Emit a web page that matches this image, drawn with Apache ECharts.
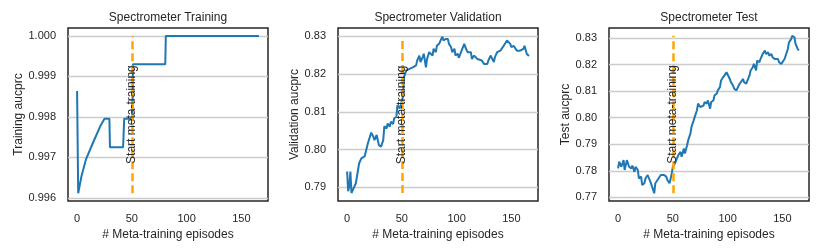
<!DOCTYPE html>
<html><head><meta charset="utf-8">
<script src="https://cdn.jsdelivr.net/npm/echarts@6/dist/echarts.min.js"></script>
<style>html,body{margin:0;padding:0;background:#fff}#c{width:830px;height:252px}</style>
</head><body><div id="c"></div>
<script>
// ---- data ----
const titles = ['Spectrometer Training', 'Spectrometer Validation', 'Spectrometer Test'];
const yNames = ['Training aucprc', 'Validation aucprc', 'Test aucprc'];
const xName = '# Meta-training episodes';
const xTicks = [0, 50, 100, 150];
const xLimits = [-8.3, 174.3];
const yTicks1 = [0.996, 0.997, 0.998, 0.999, 1.000];
const yTicks2 = [0.79, 0.80, 0.81, 0.82, 0.83];
const yTicks3 = [0.77, 0.78, 0.79, 0.80, 0.81, 0.82, 0.83];
const yLimits1 = [0.99592, 1.000195];
const yLimits2 = [0.7864, 0.8322];
const yLimits3 = [0.7686, 0.8338];
const metaStart = 50;
const metaLabel = 'Start meta-training';

const trainX = [0, 1, 4, 8, 15, 21, 25, 29.5, 30, 42, 43, 50.5, 51, 80.5, 81, 166];
const trainY = [0.99864, 0.99611, 0.99653, 0.99694, 0.99739, 0.99776, 0.99795, 0.99795, 0.99725, 0.99725, 0.99795, 0.99795, 0.99930, 0.99930, 1.0, 1.0];

const valX = [0,1,2,3,4,6,8,11,13,16,19,22,24,25,27,29,31,33,34,36,37,39,40,42,43,45,46,48,49,51,52,54,55,57,60,63,64,66,67,69,70,72,73,75,76,78,79,81,82,84,86,87,88,90,92,93,95,96,98,99,101,102,104,105,107,108,110,111,113,114,116,117,119,120,123,125,126,128,129,131,132,134,135,137,138,140,141,143,144,146,147,149,150,152,153,155,156,158,159,161,162,164,165,166];
const valY = [0.7942,0.7890,0.7903,0.7942,0.7885,0.7898,0.7911,0.7964,0.7977,0.7982,0.8017,0.8045,0.8034,0.8025,0.8039,0.8012,0.8008,0.8025,0.8062,0.8056,0.8069,0.8061,0.8074,0.8068,0.8083,0.8087,0.8118,0.8109,0.8118,0.8140,0.8192,0.8210,0.8205,0.8214,0.8218,0.8223,0.8236,0.8249,0.8232,0.8245,0.8254,0.8218,0.8240,0.8258,0.8254,0.8249,0.8267,0.8258,0.8275,0.8280,0.8293,0.8299,0.8289,0.8293,0.8293,0.8280,0.8271,0.8258,0.8267,0.8249,0.8254,0.8243,0.8258,0.8262,0.8280,0.8271,0.8258,0.8254,0.8258,0.8240,0.8249,0.8245,0.8240,0.8240,0.8236,0.8227,0.8223,0.8227,0.8236,0.8249,0.8254,0.8232,0.8245,0.8258,0.8262,0.8262,0.8267,0.8275,0.8280,0.8289,0.8293,0.8280,0.8271,0.8275,0.8271,0.8262,0.8258,0.8262,0.8258,0.8267,0.8275,0.8254,0.8249,0.8248];

const testX = [0,1,3,4,5,6,8,9,10,12,13,15,16,18,19,21,22,24,25,27,28,30,31,33,34,36,37,39,40,42,44,45,47,48,49,50,52,53,55,57,58,60,61,63,64,66,67,69,70,72,73,75,76,78,79,81,82,84,85,87,88,90,91,93,94,96,97,99,100,102,103,105,106,108,109,111,112,114,115,117,118,120,121,123,124,126,127,129,130,132,134,135,137,138,140,141,143,144,146,147,149,150,152,153,155,156,158,159,161,162,164,165];
const testY = [0.7809,0.7834,0.7815,0.7809,0.7840,0.7803,0.7840,0.7846,0.7815,0.7809,0.7819,0.7796,0.7815,0.7803,0.7771,0.7778,0.7746,0.7753,0.7771,0.7784,0.7790,0.7753,0.7740,0.7715,0.7753,0.7765,0.7759,0.7784,0.7790,0.7784,0.7778,0.7765,0.7753,0.7771,0.7790,0.7815,0.7828,0.7840,0.7859,0.7871,0.7853,0.7884,0.7865,0.7896,0.7915,0.7940,0.7965,0.7990,0.8003,0.8028,0.8053,0.8040,0.8034,0.8046,0.8059,0.8053,0.8065,0.8034,0.8059,0.8065,0.8084,0.8090,0.8103,0.8115,0.8140,0.8153,0.8159,0.8171,0.8165,0.8146,0.8134,0.8121,0.8109,0.8103,0.8109,0.8128,0.8134,0.8146,0.8134,0.8128,0.8134,0.8159,0.8178,0.8190,0.8203,0.8178,0.8215,0.8209,0.8221,0.8240,0.8253,0.8240,0.8246,0.8234,0.8240,0.8228,0.8221,0.8228,0.8221,0.8209,0.8203,0.8209,0.8221,0.8234,0.8259,0.8284,0.8296,0.8309,0.8303,0.8278,0.8259,0.8253];

// ---- build ----
const FONT = 'Liberation Sans, Arial, Helvetica, sans-serif';
const TXT = '#262626';
const panels = [
  {x: trainX, y: trainY, ticks: yTicks1, lim: yLimits1, dec: 3, left: 68, nameGap: 43},
  {x: valX, y: valY, ticks: yTicks2, lim: yLimits2, dec: 2, left: 338, nameGap: 36},
  {x: testX, y: testY, ticks: yTicks3, lim: yLimits3, dec: 2, left: 609, nameGap: 37}
];
const W = 200, TOP = 28, H = 173;

const option = {
  animation: false,
  backgroundColor: '#ffffff',
  title: panels.map((p, i) => ({
    text: titles[i], left: p.left + W / 2, top: 12, padding: 0, textAlign: 'center',
    textStyle: {fontFamily: FONT, fontSize: 12, fontWeight: 'normal', color: TXT}
  })),
  grid: panels.map(p => ({
    left: p.left, top: TOP, width: W, height: H, show: true,
    borderColor: '#262626', borderWidth: 1.5, backgroundColor: 'transparent', containLabel: false
  })),
  xAxis: panels.map((p, i) => ({
    type: 'value', gridIndex: i, min: xLimits[0], max: xLimits[1],
    name: xName, nameLocation: 'middle', nameGap: 24,
    nameTextStyle: {fontFamily: FONT, fontSize: 12, color: TXT},
    axisLine: {show: false}, axisTick: {show: false, customValues: xTicks},
    axisLabel: {customValues: xTicks, fontFamily: FONT, fontSize: 11, color: TXT, margin: 12},
    splitLine: {show: false}
  })),
  yAxis: panels.map((p, i) => ({
    type: 'value', gridIndex: i, min: p.lim[0], max: p.lim[1],
    name: yNames[i], nameLocation: 'middle', nameGap: p.nameGap,
    nameTextStyle: {fontFamily: FONT, fontSize: 12, color: TXT},
    axisLine: {show: false}, axisTick: {show: false, customValues: p.ticks},
    axisLabel: {customValues: p.ticks, fontFamily: FONT, fontSize: 11, color: TXT, margin: 12,
      formatter: v => Number(v).toFixed(p.dec)},
    splitLine: {show: true, lineStyle: {color: '#cccccc', width: 1.3}}
  })),
  series: panels.map((p, i) => {
    const lo = Math.min(...p.y), hi = Math.max(...p.y);
    return {
      type: 'line', xAxisIndex: i, yAxisIndex: i,
      data: p.x.map((x, k) => [x, p.y[k]]),
      showSymbol: false, symbol: 'none',
      lineStyle: {color: '#1f77b4', width: 2},
      z: 3,
      markLine: {
        silent: true, symbol: ['none', 'none'], animation: false,
        lineStyle: {color: '#ffa500', width: 2.5, type: [8, 4]},
        label: {show: true, position: 'middle', formatter: metaLabel, distance: 0,
          verticalAlign: 'middle', fontFamily: FONT, fontSize: 12, color: TXT},
        data: [[{coord: [metaStart, lo]}, {coord: [metaStart, hi]}]]
      }
    };
  })
};
const chart = echarts.init(document.getElementById('c'), null, {renderer: 'canvas'});
chart.setOption(option);
</script></body></html>
